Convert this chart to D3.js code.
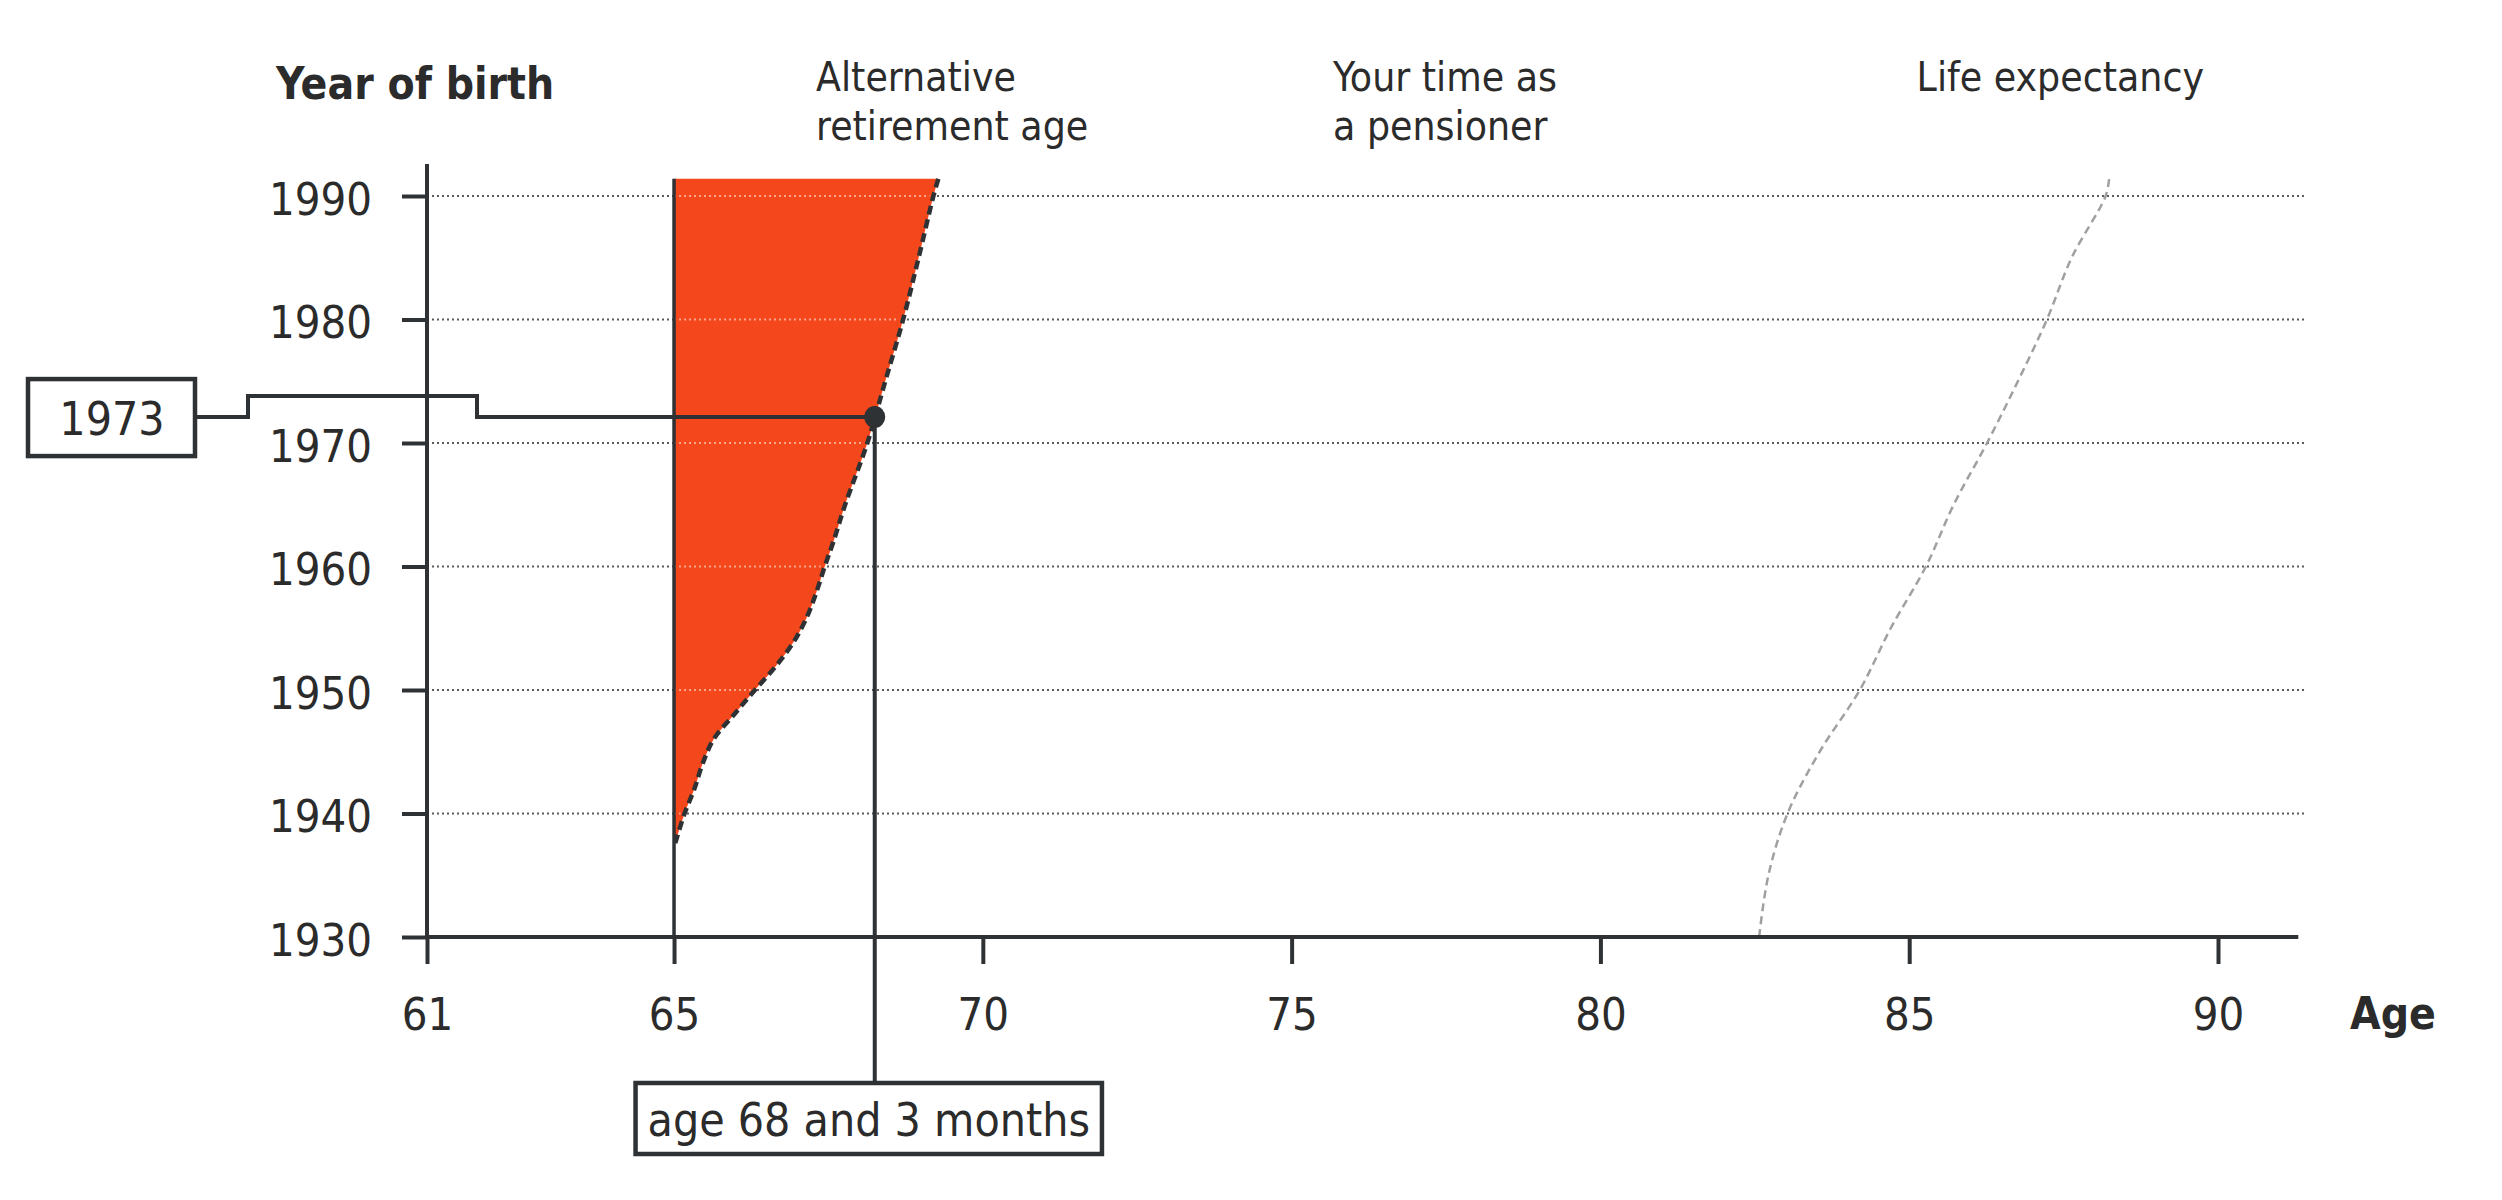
<!DOCTYPE html>
<html>
<head>
<meta charset="utf-8">
<script src="https://cdn.jsdelivr.net/npm/d3@7"></script>
<style>
  body { margin: 0; background: #fff; }
  text { font-family: "DejaVu Sans Condensed", "DejaVu Sans", sans-serif; fill: #2b2b2b; }
</style>
</head>
<body>
<div id="chart"></div>
<script>
// ---- data ----
var yearTicks = [1930, 1940, 1950, 1960, 1970, 1980, 1990];
var ageTicks = [61, 65, 70, 75, 80, 85, 90];

// alternative retirement age by year of birth
var retireYears = [1937.6, 1940, 1942, 1944, 1946, 1948, 1950, 1952, 1954, 1956, 1958, 1960, 1962, 1965, 1970, 1975, 1980, 1985, 1990, 1991.4];
var retireAges  = [65.02, 65.17, 65.33, 65.46, 65.64, 65.97, 66.31, 66.66, 66.95, 67.16, 67.31, 67.44, 67.58, 67.77, 68.13, 68.42, 68.71, 68.96, 69.2, 69.28];

// life expectancy by year of birth
var lifeYears = [1930, 1935, 1940, 1945, 1950, 1955, 1960, 1965, 1970, 1975, 1980, 1985, 1990, 1991.5];
var lifeAges  = [82.57, 82.72, 83.03, 83.55, 84.2, 84.7, 85.27, 85.72, 86.26, 86.76, 87.23, 87.63, 88.18, 88.24];

var baseAge = 65;
var highlightLabel = "1973";
var highlightYear = 1972.1;
var highlightAge = 68.25;
var highlightAgeLabel = "age 68 and 3 months";

var headers = [
  {lines: ["Alternative", "retirement age"], age: 67.3},
  {lines: ["Your time as", "a pensioner"], age: 75.67},
  {lines: ["Life expectancy"], age: 85.12}
];

// ---- setup ----
var W = 2502, H = 1200;
var svg = d3.select("#chart")
  .append("svg")
    .attr("width", W)
    .attr("height", H);

var x = d3.scaleLinear().domain([61, 90]).range([427, 2218]);
var y = d3.scaleLinear().domain([1930, 1990]).range([937, 196]);

var ink = "#2f3234";

// dotted gridlines
svg.append("g")
  .selectAll("line")
  .data(yearTicks.slice(1))
  .enter().append("line")
    .attr("x1", x(61))
    .attr("x2", x(91.4))
    .attr("y1", function(d) { return y(d); })
    .attr("y2", function(d) { return y(d); })
    .attr("stroke", "#5a5a5a")
    .attr("stroke-width", 2)
    .attr("stroke-dasharray", "2 3");

// orange area between 65 and the retirement-age curve
var retire = retireYears.map(function(d, i) { return {year: d, age: retireAges[i]}; });

var area = d3.area()
  .curve(d3.curveCatmullRom.alpha(0.5))
  .y(function(d) { return y(d.year); })
  .x0(x(baseAge))
  .x1(function(d) { return x(d.age); });

svg.append("path")
  .datum(retire)
  .attr("d", area)
  .attr("fill", "#f4471b");

// gridlines over the orange show lighter
svg.append("g")
  .selectAll("line")
  .data(yearTicks.slice(1).filter(function(d) { return d > retireYears[0]; }))
  .enter().append("line")
    .attr("x1", x(baseAge))
    .attr("x2", function(d) {
      var i = retireYears.indexOf(d);
      return x(retireAges[i]) - 4;
    })
    .attr("y1", function(d) { return y(d); })
    .attr("y2", function(d) { return y(d); })
    .attr("stroke", "#f8a88c")
    .attr("stroke-width", 2)
    .attr("stroke-dasharray", "2 3");

// dashed curve edge
var line = d3.line()
  .curve(d3.curveCatmullRom.alpha(0.5))
  .y(function(d) { return y(d.year); })
  .x(function(d) { return x(d.age); });

svg.append("path")
  .datum(retire)
  .attr("d", line)
  .attr("fill", "none")
  .attr("stroke", ink)
  .attr("stroke-width", 4.5)
  .attr("stroke-dasharray", "9 5");

// solid line at 65
svg.append("line")
  .attr("x1", x(baseAge)).attr("x2", x(baseAge))
  .attr("y1", y(retireYears[retireYears.length - 1]))
  .attr("y2", y(1930))
  .attr("stroke", ink)
  .attr("stroke-width", 3.5);

// life expectancy line
var life = lifeYears.map(function(d, i) { return {year: d, age: lifeAges[i]}; });
svg.append("path")
  .datum(life)
  .attr("d", line)
  .attr("fill", "none")
  .attr("stroke", "#a0a0a0")
  .attr("stroke-width", 2.5)
  .attr("stroke-dasharray", "8 5");

// axes
var xAxis = svg.append("g")
  .attr("transform", "translate(0," + y(1930) + ")")
  .call(d3.axisBottom(x).tickValues(ageTicks).tickSize(27).tickPadding(34).tickSizeOuter(0));
xAxis.select(".domain").remove();
xAxis.selectAll(".tick line").attr("stroke", ink).attr("stroke-width", 4);
xAxis.selectAll("text").style("font-size", "45px").attr("fill", "#2b2b2b");

var yAxis = svg.append("g")
  .attr("transform", "translate(" + x(61) + ",0)")
  .call(d3.axisLeft(y).tickValues(yearTicks).tickFormat(d3.format("d"))
    .tickSize(25).tickPadding(30).tickSizeOuter(0));
yAxis.select(".domain").remove();
yAxis.selectAll(".tick line").attr("stroke", ink).attr("stroke-width", 4);
yAxis.selectAll("text").style("font-size", "45px").attr("dy", "0.4em").attr("fill", "#2b2b2b");

// axis lines
svg.append("line")
  .attr("x1", x(61)).attr("x2", x(91.3))
  .attr("y1", y(1930)).attr("y2", y(1930))
  .attr("stroke", ink).attr("stroke-width", 4);
svg.append("line")
  .attr("x1", x(61)).attr("x2", x(61))
  .attr("y1", y(1992.6)).attr("y2", y(1930) + 2)
  .attr("stroke", ink).attr("stroke-width", 4);

// axis titles
svg.append("text")
  .attr("x", 276).attr("y", 99)
  .style("font-size", "44px").style("font-weight", "bold")
  .text("Year of birth");
svg.append("text")
  .attr("x", 2350).attr("y", 1029)
  .style("font-size", "44px").style("font-weight", "bold")
  .text("Age");

// column headers
headers.forEach(function(h) {
  var t = svg.append("text")
    .attr("x", x(h.age)).attr("y", 91)
    .style("font-size", "40.5px");
  h.lines.forEach(function(s, i) {
    t.append("tspan").attr("x", x(h.age)).attr("dy", i === 0 ? 0 : 49).text(s);
  });
});

// highlight: 1973 -> 68 and 3 months
var hx = x(highlightAge), hy = y(highlightYear);
var boxRight = x(61) - 232;

svg.append("path")
  .attr("d", "M" + boxRight + "," + hy +
             "H" + (x(61) - 179) + "V" + (hy - 21) +
             "H" + (x(61) + 50) + "V" + hy + "H" + hx)
  .attr("fill", "none")
  .attr("stroke", ink)
  .attr("stroke-width", 4);

svg.append("rect")
  .attr("x", boxRight - 167).attr("y", hy - 38)
  .attr("width", 167).attr("height", 77)
  .attr("fill", "#fff").attr("stroke", ink).attr("stroke-width", 4.5);
svg.append("text")
  .attr("x", boxRight - 83).attr("y", hy + 18)
  .attr("text-anchor", "middle")
  .style("font-size", "46px")
  .text(highlightLabel);

var boxTop = y(1930) + 146;
svg.append("line")
  .attr("x1", hx).attr("x2", hx)
  .attr("y1", hy).attr("y2", boxTop)
  .attr("stroke", ink).attr("stroke-width", 4);

svg.append("ellipse")
  .attr("cx", hx).attr("cy", hy)
  .attr("rx", 10.5).attr("ry", 11)
  .attr("fill", ink);

var ageBox = svg.append("rect");
var lbl = svg.append("text")
  .attr("x", hx - 6).attr("y", boxTop + 53)
  .attr("text-anchor", "middle")
  .style("font-size", "46px")
  .text(highlightAgeLabel);
var bb = lbl.node().getBBox();
ageBox
  .attr("x", bb.x - 12).attr("y", boxTop)
  .attr("width", bb.width + 24).attr("height", 71)
  .attr("fill", "#fff").attr("stroke", ink).attr("stroke-width", 4.5);
</script>
</body>
</html>
